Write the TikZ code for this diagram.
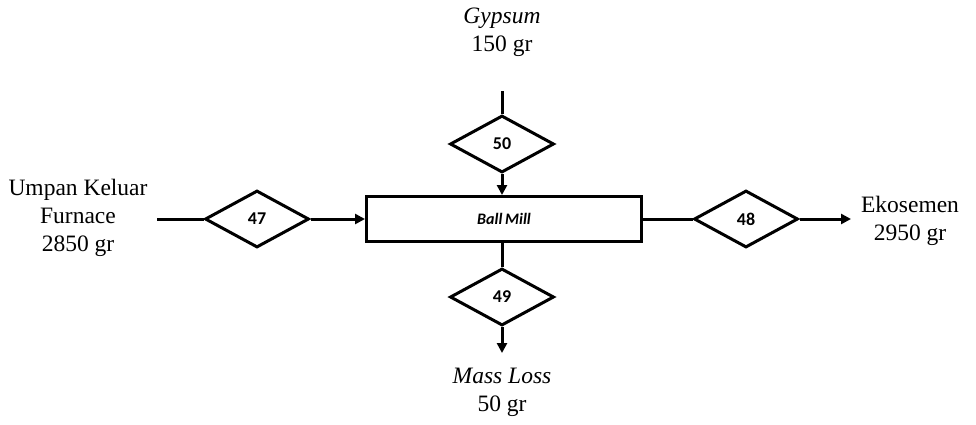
\documentclass[tikz,border=0pt]{standalone}
\usepackage{fontspec}
\setmainfont{Liberation Serif}
\newfontfamily\labelfont{Carlito}
\usetikzlibrary{shapes.geometric,arrows.meta}
\begin{document}
\begin{tikzpicture}[x=1pt,y=-1pt,
  flow/.style={line width=3pt},
  arr/.style={flow,-{Triangle[length=10pt,width=10pt]}},
  valve/.style={draw,line width=3pt,diamond,minimum width=104pt,minimum height=57pt,inner sep=0pt,
    font=\labelfont\bfseries\fontsize{18}{20}\selectfont},
  unit/.style={draw,line width=3pt,rectangle,minimum width=275pt,minimum height=45pt,inner sep=0pt,
    font=\labelfont\bfseries\itshape\fontsize{16}{18}\selectfont},
  txt/.style={align=center,font=\fontsize{23.5}{28}\selectfont,inner sep=0pt}]
\useasboundingbox (0,0) rectangle (976,424);

% main unit
\node[unit] (mill) at (504,219) {Ball\,Mill};

% stream valves
\node[valve] (v50) at (502,144) {50};
\node[valve] (v47) at (257,219) {47};
\node[valve] (v48) at (746,219) {48};
\node[valve] (v49) at (502,297) {49};

% stream ends
\coordinate (gtop) at (502,91);
\coordinate (fin) at (157,219);
\coordinate (eout) at (851,219);
\coordinate (mout) at (502,353);

% labels
\node[txt] (gyp) at (502,32) {\textit{Gypsum}\\150 gr};
\node[txt] (feed) at (78,218) {Umpan Keluar\\Furnace\\2850 gr};
\node[txt] (eko) at (910,221) {Ekosemen\\2950 gr};
\node[txt] (loss) at (502,392) {\textit{Mass Loss}\\50 gr};

% connectors
\draw[flow] (gtop) -- (v50.north);
\draw[arr] (v50.south) -- (v50.south |- mill.north);
\draw[flow] (fin) -- (v47.west);
\draw[arr] (v47.east) -- (mill.west);
\draw[flow] (mill.east) -- (v48.west);
\draw[arr] (v48.east) -- (eout);
\draw[flow] (v49.north |- mill.south) -- (v49.north);
\draw[arr] (v49.south) -- (mout);
\end{tikzpicture}
\end{document}
